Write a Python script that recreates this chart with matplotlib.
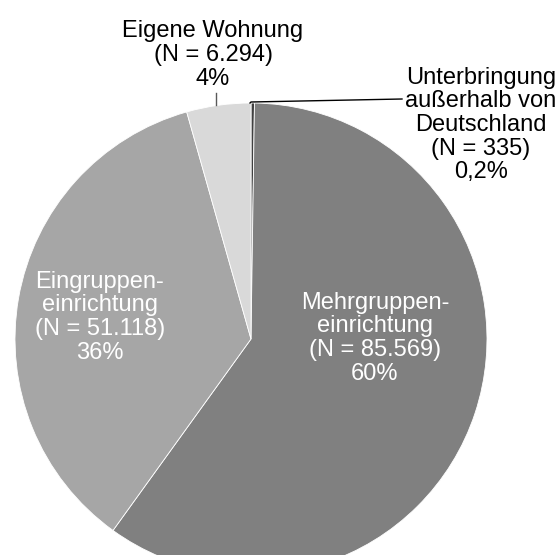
import matplotlib
matplotlib.use('Agg')
import matplotlib.pyplot as plt

plt.rcParams['font.family'] = ['Liberation Sans', 'DejaVu Sans']

# data (clockwise from 12 o'clock)
labels = ['Unterbringung\naußerhalb von\nDeutschland\n(N = 335)\n0,2%',
          'Mehrgruppen-\neinrichtung\n(N = 85.569)\n60%',
          'Eingruppen-\neinrichtung\n(N = 51.118)\n36%',
          'Eigene Wohnung\n(N = 6.294)\n4%']
counts = [335, 85569, 51118, 6294]
colors = ['#404040', '#808080', '#a6a6a6', '#d9d9d9']

fig = plt.figure(figsize=(5.6, 5.55), dpi=100)
ax = fig.add_axes([0, 0, 1, 1])

# pie centre at pixel (251, 339), radius 236 px
ax.pie(counts, colors=colors, startangle=90, counterclock=False, radius=1,
       wedgeprops=dict(linewidth=0.6, edgecolor='white'))
ax.set_aspect('auto')
ax.set_xlim(-251 / 236, (560 - 251) / 236)
ax.set_ylim((339 - 555) / 236, 339 / 236)
ax.axis('off')

fs = 17
ls = 1.1
# outside labels with leader lines
ax.text(-0.161, 1.203, labels[3], ha='center', va='center', fontsize=fs,
        color='black', linespacing=ls)
ax.plot([(216 - 251) / 236] * 2, [(339 - 105) / 236, (339 - 93) / 236],
        color='#595959', lw=1)
ax.text(0.975, 0.907, labels[0], ha='center', va='center', fontsize=fs,
        color='black', linespacing=ls)
ax.plot([(250 - 251) / 236, (251 - 251) / 236, (402 - 251) / 236],
        [1.0, (339 - 102) / 236, (339 - 99) / 236], color='black', lw=1)
# inside labels
ax.text(-0.64, 0.093, labels[2], ha='center', va='center', fontsize=fs,
        color='white', linespacing=ls)
ax.text(0.525, 0.004, labels[1], ha='center', va='center', fontsize=fs,
        color='white', linespacing=ls)

fig.savefig('out.png', dpi=100)
